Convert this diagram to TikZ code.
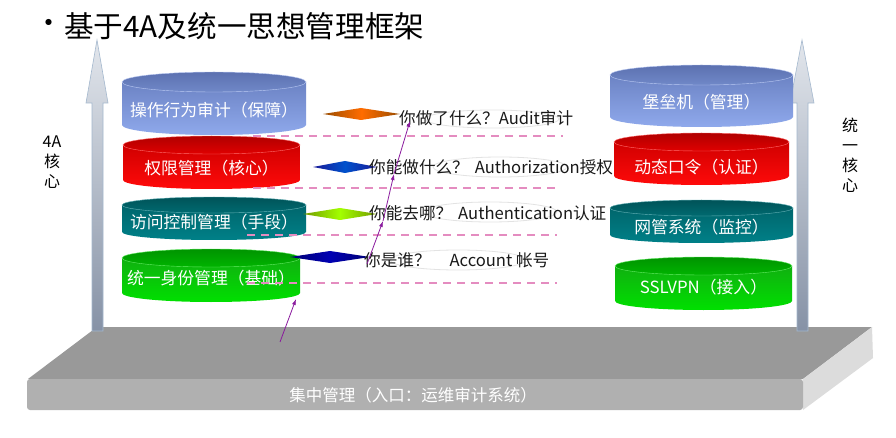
\documentclass[tikz,border=0pt]{standalone}
\usepackage{fontspec}
\setmainfont{Noto Sans CJK SC}
\usetikzlibrary{arrows.meta}
\definecolor{blueE1}{HTML}{5C71B0}\definecolor{blueE2}{HTML}{7088C8}
\definecolor{blueT}{HTML}{6C83C4}\definecolor{blueB}{HTML}{8FA9EC}
\definecolor{redE1}{HTML}{B00000}\definecolor{redE2}{HTML}{E00000}
\definecolor{redT}{HTML}{D00000}\definecolor{redB}{HTML}{FF0A0A}
\definecolor{tealE1}{HTML}{005358}\definecolor{tealE2}{HTML}{006A70}
\definecolor{tealT}{HTML}{00666C}\definecolor{tealB}{HTML}{008088}
\definecolor{greenE1}{HTML}{009400}\definecolor{greenE2}{HTML}{00B400}
\definecolor{greenT}{HTML}{10B010}\definecolor{greenB}{HTML}{00E000}
\definecolor{pinkdash}{HTML}{E48CC0}
\definecolor{purplearrow}{HTML}{8A1A9E}
\definecolor{basetop}{HTML}{999999}
\definecolor{basefront}{HTML}{B0B0B0}
\definecolor{baseside}{HTML}{DCDCDC}
\definecolor{arrowtop}{HTML}{E2E6EC}
\definecolor{arrowbot}{HTML}{8692A6}
\definecolor{arrowline}{HTML}{A4B8CE}
\newcommand{\cylinderbox}[9]{%
  \pgfmathsetmacro\rxx{(#3-#2)/2}%
  \pgfmathsetmacro\cxx{(#2+#3)/2}%
  \pgfmathsetmacro\ytt{#4+#6}%
  \pgfmathsetmacro\ybb{#5-#6}%
  \shade[top color=#7T, bottom color=#7B]
    (#2,\ytt) -- (#2,\ybb) arc[start angle=180, end angle=360, x radius=\rxx pt, y radius=#6pt]
    -- (#3,\ytt) -- cycle;
  \shade[top color=#7E1, bottom color=#7E2, draw=#7B!60!white, line width=0.4pt]
    (\cxx,\ytt) ellipse[x radius=\rxx pt, y radius=#6pt];
  \node[cyltxt] (#1) at (\cxx,#8) {#9};
}
\begin{document}
\begin{tikzpicture}[x=1pt,y=-1pt,
  cyltxt/.style={text=white, font=\fontsize{16.8}{19}\selectfont, inner sep=0pt},
  sidetxt/.style={text=black!90, font=\fontsize{16.6}{19}\selectfont, inner sep=0pt, anchor=west},
  dashpink/.style={draw=pinkdash, line width=1.6pt, dash pattern=on 8pt off 6pt},
  parrow/.style={draw=purplearrow, line width=0.8pt, -{Latex[length=6pt,width=4pt]}},
  faint/.style={draw=black!11, line width=0.8pt},
  bigarrow/.style={top color=arrowtop, bottom color=arrowbot, draw=arrowline, line width=0.6pt}]
\useasboundingbox (0,0) rectangle (896,438);
\fill[white] (0,0) rectangle (896,438);

% title
\node[font=\fontsize{29}{34}\selectfont, inner sep=0pt] (bullet) at (49,26) {•};
\node[font=\fontsize{29.6}{34}\selectfont, inner sep=0pt, anchor=west] (title) at (64,26) {基于4A及统一思想管理框架};

% base platform
\fill[basetop] (97,327) -- (872,327) -- (803,379) -- (28,379) -- cycle;
\fill[baseside] (803,379) -- (872,327) -- (873,358) -- (803,410) -- cycle;
\fill[basefront, rounded corners=3pt] (27,379) rectangle (803,410);
\node[text=white, font=\fontsize{16.5}{20}\selectfont, inner sep=0pt] (baselabel) at (413,395) {集中管理（入口：运维审计系统）};

% big vertical arrows
\shade[bigarrow] (92,331) -- (92,103) -- (86,103) -- (97,40) -- (108,103) -- (103,103) -- (103,331) -- cycle;
\shade[bigarrow] (797,331) -- (797,103) -- (790,103) -- (802,40) -- (814,103) -- (808,103) -- (808,331) -- cycle;
\node[font=\fontsize{16}{20}\selectfont, align=center, inner sep=0pt] (leftlabel) at (52,162) {4A\\核\\心};
\node[font=\fontsize{16}{20}\selectfont, align=center, inner sep=0pt] (rightlabel) at (850,155) {统\\一\\核\\心};

% left cylinders
\cylinderbox{audit}{122}{306}{72}{135}{10}{blue}{110}{操作行为审计（保障）}
\cylinderbox{perm}{123}{300}{136}{189}{9}{red}{168}{权限管理（核心）}
\cylinderbox{access}{122}{306}{197}{240}{8}{teal}{222}{访问控制管理（手段）}
\cylinderbox{ident}{122}{300}{249}{302}{9}{green}{278}{统一身份管理（基础）}

% right cylinders
\cylinderbox{bastion}{610}{793}{65}{127}{10}{blue}{102}{堡垒机（管理）}
\cylinderbox{otp}{614}{789}{133}{185}{9}{red}{167}{动态口令（认证）}
\cylinderbox{nms}{610}{793}{200}{243}{8}{teal}{227}{网管系统（监控）}
\cylinderbox{vpn}{615}{792}{257}{310}{9}{green}{287}{SSLVPN（接入）}

% dashed lines
\draw[dashpink] (253,136) -- (563,136);
\draw[dashpink] (253,188) -- (557,188);
\draw[dashpink] (247,235) -- (557,235);
\draw[dashpink] (247,283) -- (557,283);

% diamonds
\shade[left color=orange!60!black, right color=orange!60!black, middle color=orange!85!red] (323,114) -- (361,108) -- (400,114) -- (361,120) -- cycle;
\shade[left color=blue!55!black!90, right color=blue!55!black!90, middle color=blue!60!cyan!80!black] (313,167) -- (345,161) -- (377,167) -- (345,173) -- cycle;
\shade[left color=lime!60!black, right color=lime!60!black, middle color=lime!85!green] (303,214) -- (340,208) -- (377,214) -- (340,220) -- cycle;
\shade[left color=blue!45!black, right color=blue!45!black, middle color=blue!70!black] (290,257) -- (330,251) -- (370,257) -- (330,263) -- cycle;

% faint ellipses behind the texts
\draw[faint] (492,119) ellipse[x radius=67pt, y radius=9pt];
\draw[faint] (500,167) ellipse[x radius=67pt, y radius=10pt];
\draw[faint] (490,212) ellipse[x radius=67pt, y radius=10pt];
\draw[faint] (458,260) ellipse[x radius=68pt, y radius=10pt];

% side texts
\node[sidetxt] (q1) at (399,118) {你做了什么？Audit审计};
\node[sidetxt] (q2) at (369,167) {你能做什么？\hspace{6pt}Authorization授权};
\node[sidetxt] (q3) at (369,213) {你能去哪？\hspace{6pt}Authentication认证};
\node[sidetxt] (q4) at (364,260) {你是谁？\hspace{19pt}Account 帐号};

% purple arrows
\coordinate (s0) at (280,342);
\coordinate (e0) at (296,299);
\coordinate (s1) at (367,264);
\coordinate (s2) at (383,221);
\coordinate (s3) at (394,174);
\coordinate (s4) at (410,121);
\draw[parrow] (s0) -- (e0);
\draw[parrow] (s1) -- (s2);
\draw[parrow] (s2) -- (s3);
\draw[parrow] (s3) -- (s4);
\end{tikzpicture}
\end{document}
